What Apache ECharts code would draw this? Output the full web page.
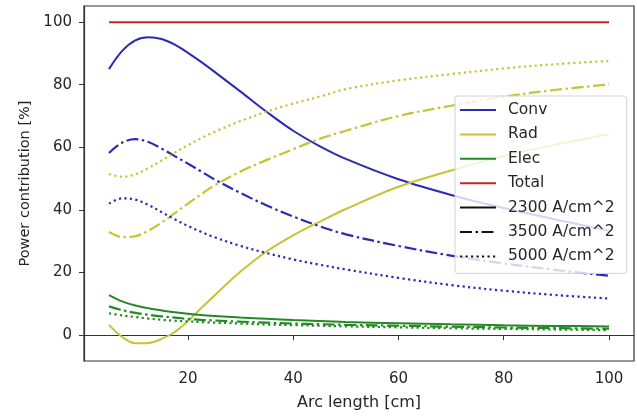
<!DOCTYPE html>
<html>
<head>
<meta charset="utf-8">
<script src="https://cdn.jsdelivr.net/npm/echarts@6/dist/echarts.min.js"></script>
<style>
  html, body { margin: 0; padding: 0; background: #fff; }
  #chart { width: 637px; height: 416px; }
</style>
</head>
<body>
<div id="chart"></div>
<script>
// ---- data ----
var arcLength = [5, 7.5, 10, 12.5, 15, 17.5, 20, 22.5, 25, 30, 35, 40, 45, 50, 60, 70, 80, 90, 100];

var conv2300 = [85.0, 90.8, 94.2, 95.2, 94.6, 92.8, 90.2, 87.3, 84.2, 77.8, 71.3, 65.3, 60.4, 56.3, 49.8, 44.8, 40.6, 36.9, 33.4];
var rad2300  = [3.3, -0.6, -2.6, -2.5, -1.2, 1.0, 4.5, 8.6, 12.6, 20.3, 26.8, 31.9, 36.2, 40.3, 47.4, 52.6, 57.2, 60.9, 64.2];
var elec2300 = [12.8, 10.8, 9.5, 8.6, 7.9, 7.3, 6.8, 6.4, 6.1, 5.6, 5.2, 4.8, 4.5, 4.2, 3.8, 3.45, 3.15, 2.95, 2.8];

var conv3500 = [58.2, 61.5, 62.6, 61.7, 59.6, 57.2, 54.8, 52.3, 49.8, 45.4, 41.4, 37.9, 34.8, 32.2, 28.5, 25.4, 22.9, 20.8, 19.0];
var rad3500  = [33.0, 31.3, 31.6, 33.4, 36.0, 39.0, 42.0, 45.0, 47.8, 52.3, 56.0, 59.4, 62.7, 65.3, 70.0, 73.3, 76.2, 78.4, 80.1];
var elec3500 = [9.2, 8.0, 7.1, 6.5, 6.0, 5.6, 5.2, 4.9, 4.7, 4.3, 4.0, 3.7, 3.5, 3.3, 3.0, 2.7, 2.45, 2.25, 2.05];

var conv5000 = [42.0, 43.7, 43.3, 41.6, 39.3, 37.0, 34.9, 33.0, 31.3, 28.5, 26.2, 24.2, 22.5, 21.0, 18.3, 16.0, 14.2, 12.8, 11.7];
var rad5000  = [51.5, 50.6, 51.4, 53.4, 55.8, 58.3, 60.7, 62.9, 64.9, 68.4, 71.4, 74.0, 76.2, 78.6, 81.4, 83.4, 85.2, 86.6, 87.6];
var elec5000 = [7.0, 6.3, 5.8, 5.3, 4.9, 4.6, 4.4, 4.2, 4.0, 3.7, 3.4, 3.2, 3.0, 2.8, 2.5, 2.2, 2.0, 1.8, 1.6];

var totalPct = [100, 100, 100, 100, 100, 100, 100, 100, 100, 100, 100, 100, 100, 100, 100, 100, 100, 100, 100];

var xTicks = [20, 40, 60, 80, 100];
var yTicks = [0, 20, 40, 60, 80, 100];
var legendNames = ['Conv', 'Rad', 'Elec', 'Total', '2300 A/cm^2', '3500 A/cm^2', '5000 A/cm^2'];

// ---- styles ----
var C_BLUE = '#2a2ab2', C_YEL = '#c4c436', C_GRN = '#238a23', C_RED = '#c82222';
var SOLID = 'solid', DASHDOT = [12, 3.5, 2.5, 3.5], DOT = [2.2, 3.3];

function pairs(ys) { return arcLength.map(function (x, i) { return [x, ys[i]]; }); }
function line(name, ys, color, type) {
  return {
    name: name, type: 'line', data: pairs(ys), symbol: 'none', smooth: 0.35,
    color: color, lineStyle: { color: color, width: type === SOLID ? 2 : 2.2, type: type }, z: 2
  };
}
function dummy(name, type) {
  return { name: name, type: 'line', data: [], symbol: 'none', color: '#111',
           lineStyle: { color: '#111', width: 2, type: type } };
}

var series = [
  line('Conv', conv2300, C_BLUE, SOLID),
  line('Rad', rad2300, C_YEL, SOLID),
  line('Elec', elec2300, C_GRN, SOLID),
  line('Total', totalPct, C_RED, SOLID),
  line('Conv 3500', conv3500, C_BLUE, DASHDOT),
  line('Rad 3500', rad3500, C_YEL, DASHDOT),
  line('Elec 3500', elec3500, C_GRN, DASHDOT),
  line('Conv 5000', conv5000, C_BLUE, DOT),
  line('Rad 5000', rad5000, C_YEL, DOT),
  line('Elec 5000', elec5000, C_GRN, DOT),
  dummy('2300 A/cm^2', SOLID),
  dummy('3500 A/cm^2', DASHDOT),
  dummy('5000 A/cm^2', DOT)
];

var FONT = 'DejaVu Sans';
var chart = echarts.init(document.getElementById('chart'), null, { renderer: 'canvas' });
chart.setOption({
  animation: false,
  backgroundColor: '#ffffff',
  textStyle: { fontFamily: FONT },
  grid: { left: 84, right: 3, top: 6, bottom: 53, show: true, borderColor: '#333', borderWidth: 1.2, backgroundColor: 'transparent' },
  xAxis: {
    type: 'value', min: 0.25, max: 104.75,
    name: 'Arc length [cm]', nameLocation: 'middle', nameGap: 34,
    nameTextStyle: { fontFamily: FONT, fontSize: 16, color: '#262626' },
    axisLine: { show: true, lineStyle: { color: '#333', width: 1.2 } },
    axisTick: { show: true, length: 5, lineStyle: { color: '#333' }, customValues: xTicks },
    axisLabel: { fontFamily: FONT, fontSize: 15, color: '#262626', margin: 11, customValues: xTicks },
    splitLine: { show: false }
  },
  yAxis: {
    type: 'value', min: -8.26, max: 105.16,
    name: 'Power contribution [%]', nameLocation: 'middle', nameGap: 50, nameRotate: 90,
    nameTextStyle: { fontFamily: FONT, fontSize: 14.5, color: '#262626' },
    axisLine: { show: true, lineStyle: { color: '#333', width: 1.2 } },
    axisTick: { show: true, length: 5, lineStyle: { color: '#333' }, customValues: yTicks },
    axisLabel: { fontFamily: FONT, fontSize: 15, color: '#262626', margin: 12, customValues: yTicks },
    splitLine: { show: false }
  },
  legend: {
    data: legendNames,
    orient: 'vertical', left: 455, top: 96,
    padding: [6, 12, 9, 4],
    itemWidth: 36, itemHeight: 14, itemGap: 8.4,
    itemStyle: { color: 'rgba(0,0,0,0)', borderWidth: 0, opacity: 0 },
    backgroundColor: 'rgba(255,255,255,0.8)', borderColor: '#d2d2d2', borderWidth: 1, borderRadius: 3,
    textStyle: { fontFamily: FONT, fontSize: 15.5, color: '#262626', lineHeight: 14, padding: [0, 0, 0, 7] },
    selectedMode: false
  },
  series: series
});
</script>
</body>
</html>
